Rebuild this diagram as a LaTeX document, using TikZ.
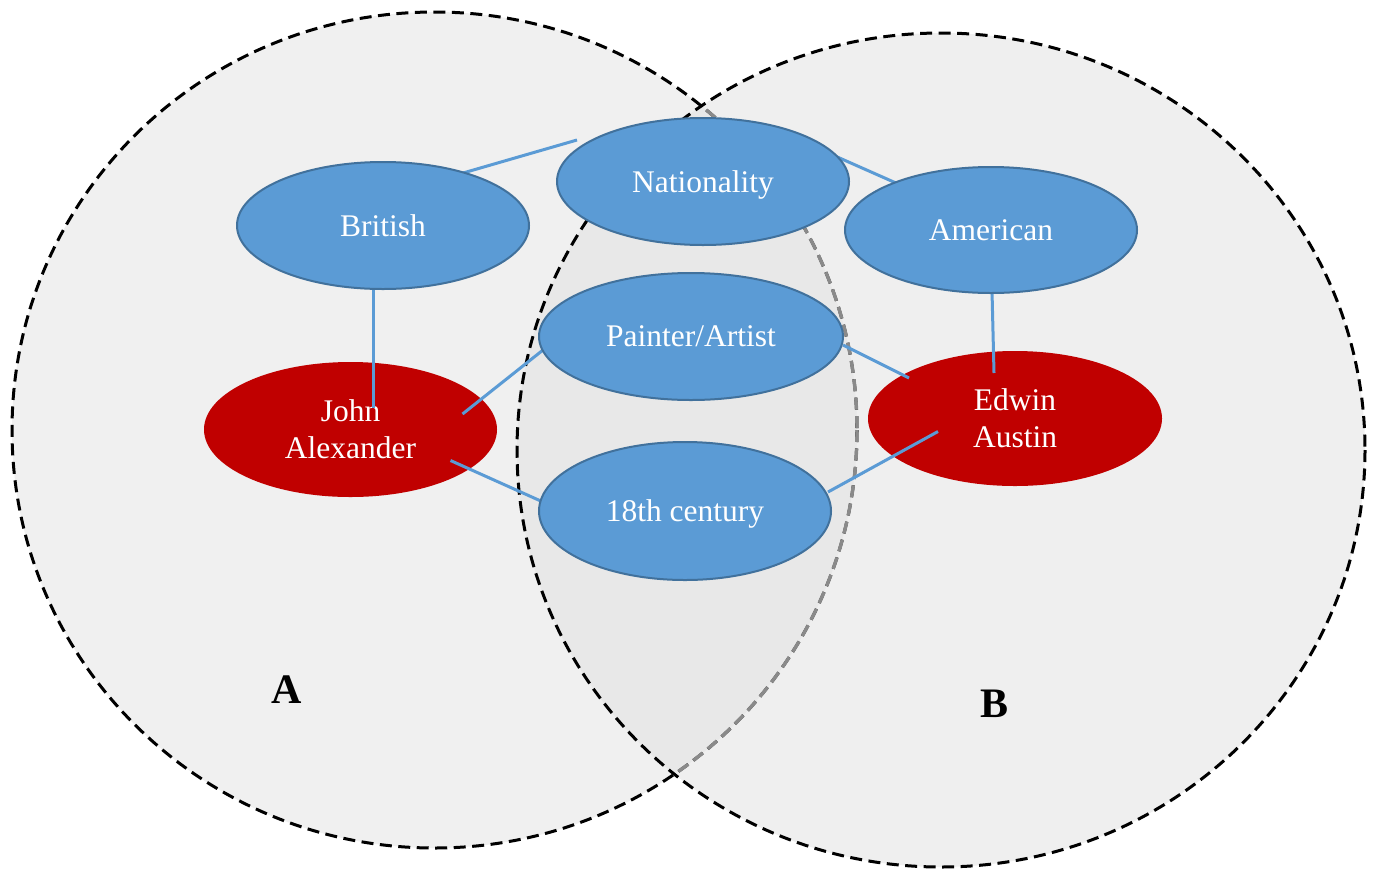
\documentclass[tikz,border=0pt]{standalone}
\usepackage{fontspec}
\setmainfont{Liberation Serif}
\usetikzlibrary{shapes.geometric,calc}

\definecolor{nodeblue}{HTML}{5B9BD5}
\definecolor{nodeedge}{HTML}{41719C}
\definecolor{nodered}{HTML}{C00000}
\definecolor{linkblue}{HTML}{5B9BD5}
\definecolor{hiddenring}{HTML}{8A8A8A}

\pgfdeclarelayer{back}
\pgfdeclarelayer{links}
\pgfsetlayers{back,links,main}

\begin{document}
\begin{tikzpicture}[x=1pt,y=-1pt,
  setring/.style={dash pattern=on 12pt off 6.5pt, line width=3pt},
  concept/.style={ellipse, fill=nodeblue, draw=nodeedge, line width=2pt,
    text=white, inner sep=0pt, text depth=0pt,
    font=\fontsize{31.5}{37}\selectfont},
  person/.style={ellipse, fill=nodered, text=white, inner sep=0pt,
    align=center, font=\fontsize{31.5}{37}\selectfont},
  link/.style={draw=linkblue, line width=3pt},
  setlabel/.style={font=\fontsize{42}{50}\selectfont\bfseries}]

\useasboundingbox (0,0) rectangle (1375,868);
\clip (0,0) rectangle (1375,868);

% the two sets, with the second one laid semi-transparently over the first
\begin{pgfonlayer}{back}
  \fill[white] (0,0) rectangle (1375,868);
  \fill[black!6] (434.5,430) ellipse [x radius=422.5, y radius=418];
  \fill[black!12.5, fill opacity=0.47] (941,450) ellipse [x radius=424, y radius=417];
  \draw[setring] (434.5,430) ellipse [x radius=422.5, y radius=418];
  % part of ring A that lies under set B shows through in grey
  \begin{scope}
    \clip (941,450) ellipse [x radius=424, y radius=417];
    \draw[setring, hiddenring, line width=3.4pt] (434.5,430) ellipse [x radius=422.5, y radius=418];
  \end{scope}
  \draw[setring] (941,450) ellipse [x radius=424, y radius=417];

  % the two people
  \node[person, minimum width=293pt, minimum height=135pt] (john) at (350.5,429.5) {John\\Alexander};
  \node[person, minimum width=294pt, minimum height=135pt] (edwin) at (1015,418.5) {Edwin\\Austin};
\end{pgfonlayer}

% shared and individual attributes
\node[concept, minimum width=292pt, minimum height=127pt] (nat) at (703,181.5) {Nationality};
\node[concept, minimum width=292pt, minimum height=127pt] (brit) at (383,225.5) {British};
\node[concept, minimum width=292pt, minimum height=126pt] (amer) at (991,230) {American};
\node[concept, minimum width=304pt, minimum height=127pt] (paint) at (691,336.5) {Painter/Artist};
\node[concept, minimum width=292pt, minimum height=138pt] (cent) at (685,511) {18th century};

% set labels
\node[setlabel] (labA) at (287,690) {A};
\node[setlabel] (labB) at (994,704) {B};

% connectors
\begin{pgfonlayer}{links}
  \draw[link] ($(nat.center)+(-126,-41.5)$) -- ($(brit.center)+(80,-52.5)$);
  \draw[link] ($(nat.center)+(132,-25.5)$) -- ($(amer.center)+(-95,-47)$);
  \draw[link] ($(brit.center)+(-10,62)$) -- ($(john.center)+(22.5,-22)$);
  \draw[link] ($(amer.center)+(1,61)$) -- ($(edwin.center)+(-21,-45.5)$);
  \draw[link] ($(paint.center)+(-148,13.5)$) -- ($(john.center)+(112,-15.5)$);
  \draw[link] ($(paint.center)+(152,8.5)$) -- ($(edwin.center)+(-106,-40.5)$);
  \draw[link] ($(cent.center)+(-142,-9)$) -- ($(john.center)+(100,31)$);
  \draw[link] ($(cent.center)+(143,-19)$) -- ($(edwin.center)+(-77,13)$);
\end{pgfonlayer}

\end{tikzpicture}
\end{document}
